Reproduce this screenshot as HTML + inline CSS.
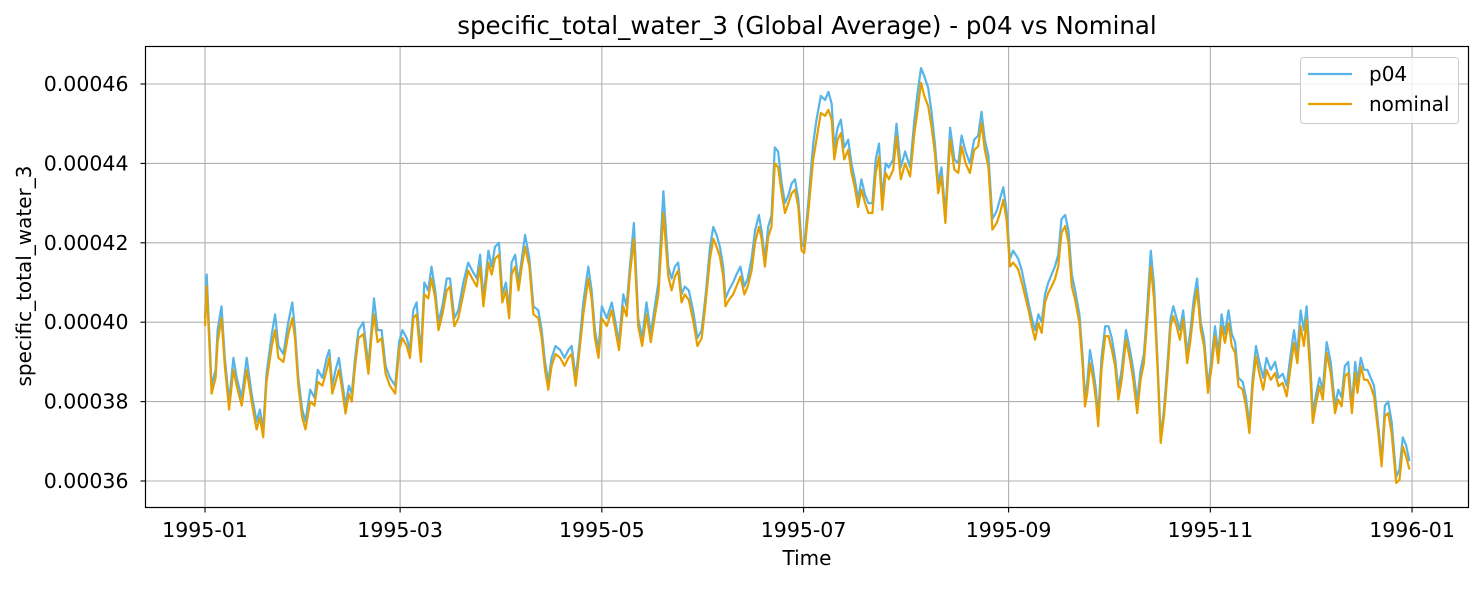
<!DOCTYPE html>
<html><head><meta charset="utf-8"><style>
body{margin:0;background:#fff;}
svg text{font-family:"DejaVu Sans","Liberation Sans",sans-serif;fill:#000;}
</style></head><body>
<svg id="chart" width="1484" height="584" xmlns="http://www.w3.org/2000/svg">
<rect x="0" y="0" width="1484" height="584" fill="#fff"/>
<text x="807" y="34" font-size="24.5" text-anchor="middle">specific_total_water_3 (Global Average) - p04 vs Nominal</text>
<text x="807" y="565" font-size="20" text-anchor="middle">Time</text>
<text x="31" y="276" font-size="20" text-anchor="middle" transform="rotate(-90 31 276)">specific_total_water_3</text>
<g id="grid"></g><g id="ticks"></g>
<g id="series"></g>
<rect x="145.5" y="46.5" width="1323" height="461" fill="none" stroke="#000" stroke-width="1.2"/>
<g>
<rect x="1300.5" y="57.5" width="158" height="66" rx="3" fill="#fff" fill-opacity="0.8" stroke="#ccc"/>
<g><line x1="1308" y1="74" x2="1352" y2="74" stroke="#56b4e9" stroke-width="2.2"/><text x="1369" y="81" font-size="20">p04</text></g>
<g><line x1="1308" y1="104" x2="1352" y2="104" stroke="#e69f00" stroke-width="2.2"/><text x="1369" y="111" font-size="20">nominal</text></g>
</g>
</svg>
<script>
const tickDays=[0,59,120,181,243,304,365];
const tickLabels=["1995-01","1995-03","1995-05","1995-07","1995-09","1995-11","1996-01"];
const yTicks=[360,380,400,420,440,460];
const yTickLabels=["0.00036","0.00038","0.00040","0.00042","0.00044","0.00046"];
const days=[0,0.5,2,3.2,3.8,5,6,7.3,8.6,9.6,11.1,12.6,14.1,15.6,16.6,17.6,18.6,20.2,21.2,22.2,23.7,25.2,26.4,27.2,28.2,29.4,30.4,31.8,33.1,34.1,35.5,36.8,37.6,38.5,39.5,40.5,41.3,42.5,43.5,44.4,45.4,46.4,47.9,49.4,50.4,51.1,52.2,53.4,54.6,55.9,57.5,58.7,59.7,61,62,63,64,65.3,66.3,67.5,68.5,69.6,70.6,71.8,73.1,74.1,75.4,76.6,78.1,79.6,80.8,82.2,83.2,84.2,85.7,86.7,87.7,88.9,89.9,91,92,92.7,93.8,94.8,95.8,96.8,98.1,99.3,100.8,101.8,102.8,103.8,104.8,106,107.4,108.7,109.9,110.9,112.1,113.4,114.4,115.9,116.9,117.9,119,120,121.5,123,
125.2,126.5,127.5,128.5,129.7,131,132.2,133.5,134.8,136,137.1,138.6,140.1,141.1,142.1,143.1,144.1,145.1,146.3,147.6,148.9,150.2,151.4,152.7,153.7,154.7,155.7,156.7,157.4,158.4,159.7,160.7,161.9,163.1,164.1,165.3,166.3,167.5,168.3,169.3,170.3,171.3,172.3,173.3,174.4,175.4,176.4,177.4,178.4,179.4,180.4,181.2,182.4,183.9,184.9,186.2,187.5,188.5,189.5,190.3,191.3,192.3,193.3,194.5,195.5,196.5,197.5,198.5,199.6,200.6,201.8,202.8,203.8,204.8,205.8,206.8,208.1,209.1,210.4,211.7,213.2,214.5,215.5,216.5,217.5,218.7,219.7,220.7,221.7,222.7,223.9,225.3,226.6,227.8,228.8,230,231.3,232.6,233.8,234.8,235.8,236.9,238.1,239.4,240.4,241.4,242.4,
243.4,244.4,245.9,247,248,249,250,251,252,253,254,255,256,257,258,259,260.1,261.1,262.1,263.1,264.4,265.4,266.1,266.8,267.6,268.6,269.4,270.1,271.1,272.2,273.2,274.2,275.2,276.2,277.2,278.5,279.7,280.7,281.9,282.9,283.9,284.8,286,287,288,289,290,291,292,292.8,293.8,294.8,295.8,297,298,299,300,301.1,302.1,303.3,304.4,305.4,306.4,307.4,308.4,309.5,310.5,311.5,312.5,313.8,314.8,315.8,316.8,317.8,318.8,320,321,322.3,323.6,324.6,325.9,327.1,328.3,329.3,330.3,331.3,332.3,333.1,334.2,335,336,337,338,339.2,340.4,341.7,342.7,343.7,344.7,345.7,346.8,347.8,348.5,349.5,350.5,351.5,352.5,353.5,354.8,355.8,356.8,357.8,358.8,360.2,361.2,362.2,363.2,364.2];
const nominal=[399,409,382,386,395,401,389,378,388,384,379,388,380,373,376,371,385,394,398,391,390,397,401,396,384,376,373,380,379,385,384,388,391,382,385,388,384,377,382,380,389,396,397,387,397,402,395,396,387,384,382,393,396,394,391,401,402,390,407,406,411,406,398,402,408,409,399,401,407,413,411,409,414,404,415,412,416,417,405,408,401,412,414,408,414,419,414,402,401,396,388,383,389,392,391,389,391,392,384,394,402,411,406,396,391,401,399,403,
393,404,401.5,412,421,399,394,402,395,401.5,407,427.5,411.5,408,411.5,413,405,407,405.6,400.5,394,396,405,416,421,419,416.5,411.5,404,405.6,407,409,411.5,407,409,413,420,424,421,414,421.5,424,440,439,432.5,427.5,430,432.5,433.4,429,418,417.4,427.5,441,446,452.7,452,453.5,451,441,446,447.6,441,443.4,437.6,434,429,433.4,430,427.5,427.5,437.6,441.8,428.3,437.6,436,438.4,446.8,436,440,436.7,447.6,453.5,460.3,457,454.4,449.3,442.6,432.5,436.7,425,446,438.4,437.6,444.3,440,437.6,443.4,444.3,450.2,443.4,439.2,423.3,425,427.5,430.8,425.8,
414,415,413.3,410,406.6,403.2,399,395.6,399.8,397.3,404.9,407.4,409,410.8,414,422.5,424.2,420,409,405.7,399.8,388.9,378.8,382.2,389.7,385.5,380.5,373.8,388,396.5,396.5,393.1,389,380.5,385.5,395.6,390.6,385.5,377.1,385.5,389.7,399,414,405.7,389,369.6,376.3,386.4,399,401.5,399,395.6,400.7,389.7,395.6,403.2,408.2,398.2,394,382.2,388.9,396.5,389.7,399,394.8,399.8,394,392.3,383.9,383,378.8,372.1,383.9,391.4,387.2,383,388,385.5,387.2,383.9,384.7,381.3,388.9,394.8,389.7,399,394,400.7,387.2,374.6,379.7,383.9,380.5,392.3,387.2,377.1,380.5,378.8,386.4,387.2,377.1,387.2,382.2,388.9,385.5,385.5,383.9,381.3,372.1,363.7,376.3,377.1,372.1,359.5,360.3,368.7,366.2,362.9];
const p04=[401,412,384,388,398,404,391,380,391,386,381,391,382,375,378,373,387,397,402,394,392,400,405,398,386,378,375,383,381,388,386,391,393,384,388,391,386,379,384,382,391,398,400,389,399,406,398,398,389,386,384,395,398,396,393,403,405,392,410,408,414,408,400,404,411,411,401,403,410,415,413,411,417,406,418,414,419,420,407,410,403,415,417,410,416,422,416,404,403,398,390,385,391,394,393,391,393,394,386,396,405,414,408,398,393,404,401,405,
395,407,404,414,425,401,396,405,397,404,410,433,414,411,414,415,407,409,408,403,396,398,407,419,424,422,419,414,406,408,410,412,414,409,411,416,423,427,423,416,424,427,444,443,435,430,432,435,436,431,420,419,430,445,451,457,456,458,455,444,449,451,444,446,440,436,431,436,432,430,430,441,445,431,440,439,441,450,439,443,439,451,458,464,462,459,453,445,435,439,427,449,441,440,447,443,440,446,447,453,446,442,426,428,431,434,428,
416,418,416,413,409,405,401,398,402,400,407,410,412,414,417,426,427,423,412,408,402,391,381,385,393,388,383,376,391,399,399,396,391,383,388,398,393,388,380,388,392,402,418,409,391,371,378,389,401,404,401,398,403,392,398,406,411,400,396,384,391,399,392,402,397,403,397,395,386,385,381,374,386,394,390,386,391,388,390,386,387,384,392,398,392,403,398,404,390,377,382,386,383,395,390,379,383,381,389,390,379,390,385,391,388,388,386,384,374,365,379,380,375,361,363,371,369,365];

const L=145.5,R=1468.5,T=46.5,B=507.5;
const xs=d=>205+d*3.307;
const ys=v=>84+(460-v)*3.97;
const NS="http://www.w3.org/2000/svg";
const grid=document.getElementById('grid'),ticks=document.getElementById('ticks'),ser=document.getElementById('series');
function mk(tag,attrs,parent){const e=document.createElementNS(NS,tag);for(const k in attrs)e.setAttribute(k,attrs[k]);parent.appendChild(e);return e;}
tickDays.forEach((d,i)=>{
  const x=xs(d);
  const g=mk('line',{x1:x,y1:T,x2:x,y2:B,stroke:'#b0b0b0','stroke-width':1.1},grid);
  
  
  mk('line',{x1:x,y1:B,x2:x,y2:B+5,stroke:'#000','stroke-width':1.1},ticks);
  const t=mk('text',{x:x,y:537,'font-size':20.5,'text-anchor':'middle'},ticks);
  t.textContent=tickLabels[i];
  
  
});
yTicks.forEach((v,i)=>{
  const y=ys(v);
  const g=mk('line',{x1:L,y1:y,x2:R,y2:y,stroke:'#b0b0b0','stroke-width':1.1},grid);
  
  
  mk('line',{x1:L-5,y1:y,x2:L,y2:y,stroke:'#000','stroke-width':1.1},ticks);
  const t=mk('text',{x:L-17,y:y+7,'font-size':20.5,'text-anchor':'end'},ticks);
  t.textContent=yTickLabels[i];
  
  
});
function line(vals,color,name){
  const d=vals.map((v,i)=>(i?'L':'M')+xs(days[i]).toFixed(1)+' '+ys(v).toFixed(1)).join(' ');
  const p=mk('path',{d:d,fill:'none',stroke:color,'stroke-width':2.2,'stroke-linejoin':'round'},ser);
  
  
}
line(p04,'#56b4e9','p04-line');
line(nominal,'#e69f00','nominal-line');
</script>
</body></html>
